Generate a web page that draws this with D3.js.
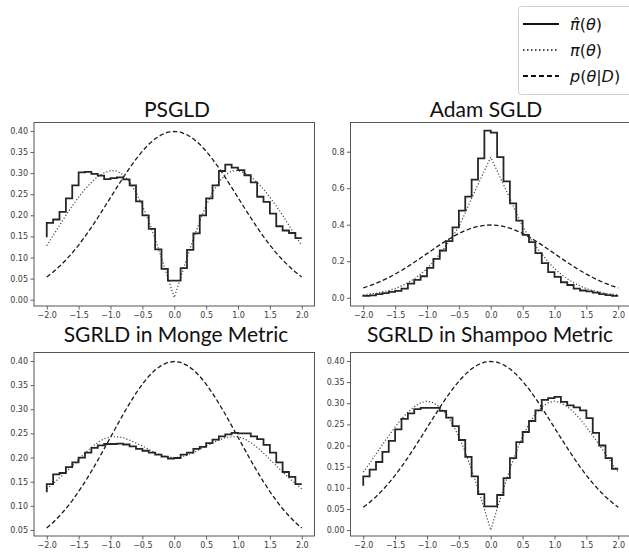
<!DOCTYPE html>
<html>
<head>
<meta charset="utf-8">
<script src="https://cdn.jsdelivr.net/npm/d3@7"></script>
<style>
  html, body { margin: 0; padding: 0; background: #fff; }
  svg { display: block; }
</style>
</head>
<body>
<svg id="chart" width="629" height="552"></svg>
<script>
// ---------------- data ----------------
const thetaGrid = [-2.0,-1.9,-1.8,-1.7,-1.6,-1.5,-1.4,-1.3,-1.2,-1.1,-1.0,-0.9,-0.8,-0.7,-0.6,-0.5,-0.4,-0.3,-0.2,-0.1,0.0,
                   0.1,0.2,0.3,0.4,0.5,0.6,0.7,0.8,0.9,1.0,1.1,1.2,1.3,1.4,1.5,1.6,1.7,1.8,1.9,2.0];

const xTicks = [-2.0,-1.5,-1.0,-0.5,0.0,0.5,1.0,1.5,2.0];

// p(theta|D)
const posterior = [0.054,0.0656,0.079,0.094,0.1109,0.1295,0.1497,0.1714,0.1942,0.2179,0.242,0.2661,0.2897,0.3123,0.3332,0.3521,0.3683,0.3814,0.391,0.397,0.3989,
                   0.397,0.391,0.3814,0.3683,0.3521,0.3332,0.3123,0.2897,0.2661,0.242,0.2179,0.1942,0.1714,0.1497,0.1295,0.1109,0.094,0.079,0.0656,0.054];

// PSGLD
const psgldHist = [0.148,0.182,0.19,0.208,0.24,0.271,0.302,0.303,0.298,0.294,0.286,0.288,0.29,0.285,0.271,0.233,0.2,0.168,0.119,0.073,0.045,
                   0.045,0.075,0.118,0.157,0.2,0.24,0.271,0.305,0.32,0.313,0.307,0.295,0.278,0.244,0.232,0.204,0.174,0.164,0.158,0.146];
const psgldTarget = [0.128,0.152,0.176,0.2,0.222,0.243,0.262,0.278,0.292,0.301,0.306,0.305,0.296,0.279,0.254,0.223,0.186,0.144,0.099,0.052,0.005,
                     0.052,0.099,0.144,0.186,0.223,0.254,0.279,0.296,0.305,0.306,0.301,0.292,0.278,0.262,0.243,0.222,0.2,0.176,0.152,0.128];

// Adam SGLD
const adamHist = [0.005,0.01,0.013,0.02,0.025,0.032,0.038,0.05,0.077,0.098,0.118,0.164,0.213,0.259,0.31,0.386,0.477,0.554,0.647,0.764,0.915,
                  0.905,0.77,0.638,0.517,0.423,0.345,0.305,0.245,0.19,0.14,0.115,0.085,0.07,0.05,0.04,0.035,0.028,0.02,0.015,0.01];
const adamTarget = [0.016,0.02,0.025,0.032,0.04,0.05,0.065,0.083,0.104,0.13,0.16,0.197,0.24,0.285,0.335,0.39,0.465,0.545,0.62,0.695,0.77,
                    0.695,0.62,0.545,0.465,0.39,0.335,0.285,0.24,0.197,0.16,0.13,0.104,0.083,0.065,0.05,0.04,0.032,0.025,0.02,0.016];

// SGRLD in Monge Metric
const mongeHist = [0.128,0.145,0.165,0.168,0.18,0.19,0.2,0.21,0.22,0.225,0.228,0.228,0.229,0.227,0.223,0.218,0.214,0.21,0.206,0.202,0.198,
                   0.199,0.206,0.21,0.218,0.222,0.23,0.237,0.244,0.248,0.251,0.25,0.25,0.244,0.238,0.226,0.21,0.19,0.17,0.16,0.145];
const mongeTarget = [0.135,0.146,0.158,0.17,0.183,0.196,0.209,0.221,0.231,0.239,0.243,0.243,0.241,0.236,0.23,0.224,0.217,0.21,0.205,0.201,0.2,
                     0.201,0.205,0.21,0.217,0.224,0.23,0.236,0.241,0.243,0.243,0.239,0.231,0.221,0.209,0.196,0.183,0.17,0.158,0.146,0.135];

// SGRLD in Shampoo Metric
const shampooHist = [0.105,0.127,0.143,0.161,0.185,0.211,0.238,0.263,0.276,0.286,0.289,0.289,0.289,0.282,0.266,0.246,0.213,0.173,0.127,0.085,0.056,
                     0.056,0.083,0.123,0.17,0.208,0.232,0.258,0.283,0.308,0.312,0.315,0.303,0.295,0.29,0.283,0.265,0.23,0.2,0.17,0.145];
const shampooTarget = [0.137,0.158,0.18,0.202,0.223,0.244,0.263,0.279,0.292,0.301,0.305,0.301,0.291,0.275,0.251,0.221,0.185,0.143,0.098,0.05,0.0,
                       0.05,0.098,0.143,0.185,0.221,0.251,0.275,0.291,0.301,0.305,0.301,0.292,0.279,0.263,0.244,0.223,0.202,0.18,0.158,0.137];

const titles = ["PSGLD", "Adam SGLD", "SGRLD in Monge Metric", "SGRLD in Shampoo Metric"];
const yTicksPSGLD = [0.00,0.05,0.10,0.15,0.20,0.25,0.30,0.35,0.40];
const yTicksAdam = [0.0,0.2,0.4,0.6,0.8];
const yTicksMonge = [0.05,0.10,0.15,0.20,0.25,0.30,0.35,0.40];
const yTicksShampoo = [0.00,0.05,0.10,0.15,0.20,0.25,0.30,0.35,0.40];

const legendLabels = ["hat", "pi", "post"];

// ---------------- layout ----------------
const panels = [
  {title: titles[0], hist: psgldHist, target: psgldTarget, yDomain: [-0.015, 0.42], yTicks: yTicksPSGLD, fmt: ".2f",
   left: 34, right: 314.5, top: 122.5, bottom: 306, titleX: 177, titleY: 117},
  {title: titles[1], hist: adamHist, target: adamTarget, yDomain: [-0.045, 0.96], yTicks: yTicksAdam, fmt: ".1f",
   left: 350.5, right: 631, top: 122.5, bottom: 306, titleX: 486, titleY: 117},
  {title: titles[2], hist: mongeHist, target: mongeTarget, yDomain: [0.0375, 0.4175], yTicks: yTicksMonge, fmt: ".2f",
   left: 34, right: 314.5, top: 352.5, bottom: 536, titleX: 176, titleY: 342},
  {title: titles[3], hist: shampooHist, target: shampooTarget, yDomain: [-0.014, 0.42], yTicks: yTicksShampoo, fmt: ".2f",
   left: 350.5, right: 631, top: 352.5, bottom: 536, titleX: 490, titleY: 342}
];

const svg = d3.select("#chart");
const tickFont = "DejaVu Sans, sans-serif";
const tickColor = "#3a3a3a";

panels.forEach(p => {
  const x = d3.scaleLinear().domain([-2.2, 2.2]).range([p.left, p.right]);
  const y = d3.scaleLinear().domain(p.yDomain).range([p.bottom, p.top]);
  const g = svg.append("g");

  const clipId = "clip" + Math.round(p.left) + "_" + Math.round(p.top);
  svg.append("clipPath").attr("id", clipId).append("rect")
    .attr("x", p.left).attr("y", p.top).attr("width", p.right - p.left).attr("height", p.bottom - p.top);

  const plot = g.append("g").attr("clip-path", `url(#${clipId})`);

  const lineSmooth = d3.line().x((d, i) => x(thetaGrid[i])).y(d => y(d));
  const lineStep = d3.line().x((d, i) => x(thetaGrid[i])).y(d => y(d)).curve(d3.curveStepBefore);

  plot.append("path").datum(posterior).attr("d", lineSmooth)
    .attr("fill", "none").attr("stroke", "#1a1a1a").attr("stroke-width", 1.3)
    .attr("stroke-dasharray", "4.5,2.5");
  plot.append("path").datum(p.target).attr("d", lineSmooth)
    .attr("fill", "none").attr("stroke", "#444").attr("stroke-width", 1.2)
    .attr("stroke-dasharray", "1.2,2");
  plot.append("path").datum(p.hist).attr("d", lineStep)
    .attr("fill", "none").attr("stroke", "#262626").attr("stroke-width", 1.8);

  const xAxis = d3.axisBottom(x).tickValues(xTicks).tickFormat(d3.format(".1f")).tickSize(3.5).tickPadding(2.5);
  const yAxis = d3.axisLeft(y).tickValues(p.yTicks).tickFormat(d3.format(p.fmt)).tickSize(3.5).tickPadding(2.5);

  const gx = g.append("g").attr("transform", `translate(0,${p.bottom})`).call(xAxis);
  const gy = g.append("g").attr("transform", `translate(${p.left},0)`).call(yAxis);
  [gx, gy].forEach(a => {
    a.select(".domain").remove();
    a.selectAll("line").attr("stroke", tickColor).attr("stroke-width", 0.8);
    a.selectAll("text").attr("fill", tickColor).style("font-family", tickFont).style("font-size", "8px");
  });

  g.append("rect")
    .attr("x", p.left).attr("y", p.top).attr("width", p.right - p.left).attr("height", p.bottom - p.top)
    .attr("fill", "none").attr("stroke", "#555").attr("stroke-width", 1);

  svg.append("text").attr("x", p.titleX).attr("y", p.titleY)
    .attr("text-anchor", "middle")
    .style("font-family", "Lato, 'Open Sans', sans-serif").style("font-size", "21px")
    .attr("fill", "#111").text(p.title);
});

// ---------------- legend ----------------
const lg = svg.append("g");
lg.append("rect").attr("x", 518.5).attr("y", 6.5).attr("width", 130).attr("height", 88).attr("rx", 3)
  .attr("fill", "#fff").attr("stroke", "#cfcfcf").attr("stroke-width", 1);

const legendRows = [
  {key: legendLabels[0], y: 24, dash: null, width: 2},
  {key: legendLabels[1], y: 50, dash: "1.5,2.5", width: 1.6},
  {key: legendLabels[2], y: 76, dash: "5,3", width: 2}
];
legendRows.forEach(r => {
  const ln = lg.append("line").attr("x1", 523).attr("x2", 559).attr("y1", r.y).attr("y2", r.y)
    .attr("stroke", "#111").attr("stroke-width", r.width);
  if (r.dash) ln.attr("stroke-dasharray", r.dash);
  const t = lg.append("text").attr("x", 570).attr("y", r.y + 6)
    .style("font-family", "DejaVu Sans, sans-serif").style("font-size", "16px").attr("fill", "#111");
  const it = (s) => t.append("tspan").style("font-style", "italic").text(s);
  const up = (s) => t.append("tspan").text(s);
  if (r.key === "hat") { it("\u03C0\u0302"); up("("); it("\u03B8"); up(")"); }
  if (r.key === "pi") { it("\u03C0"); up("("); it("\u03B8"); up(")"); }
  if (r.key === "post") { it("p"); up("("); it("\u03B8"); up("|"); it("D"); up(")"); }
});
</script>
</body>
</html>
